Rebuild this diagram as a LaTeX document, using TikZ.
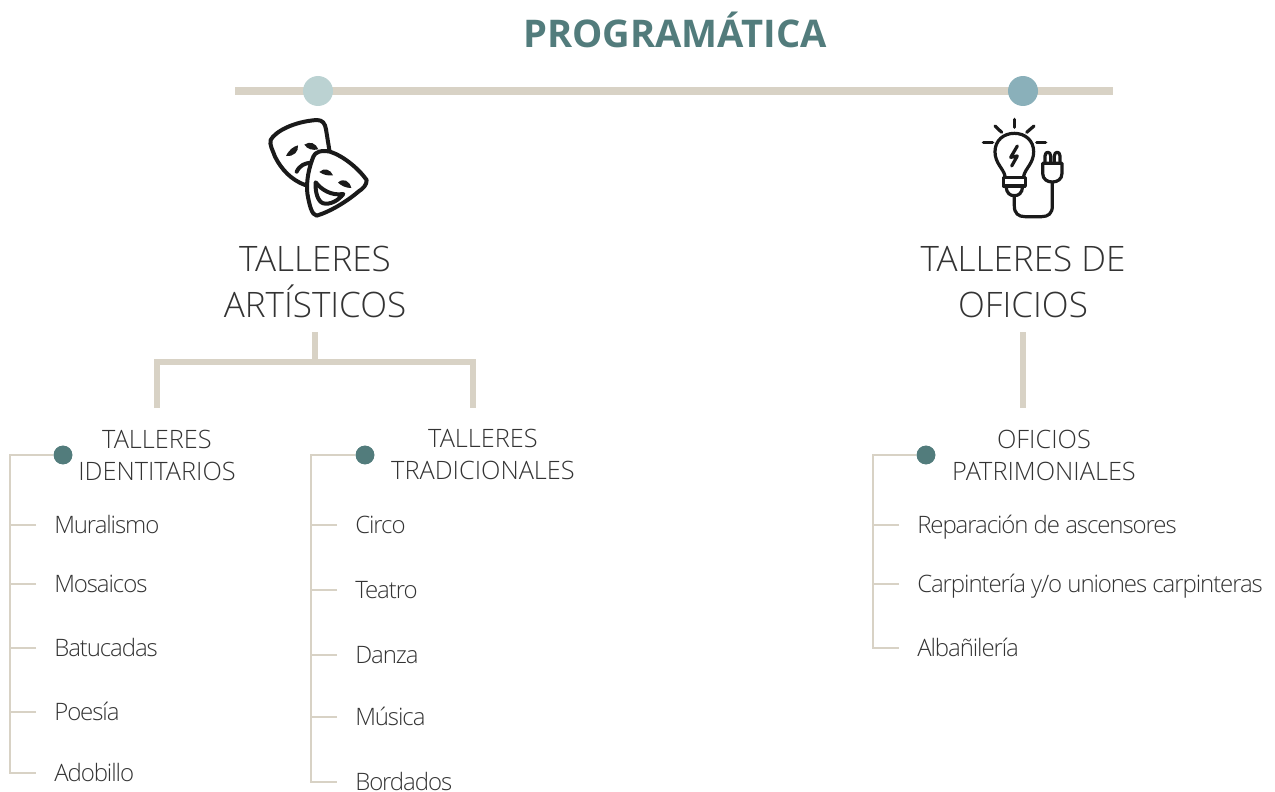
\documentclass[tikz,border=0pt]{standalone}
\usepackage{fontspec}
\setmainfont{Open Sans Light}[BoldFont={Open Sans}]
\newfontfamily\titlefont{Open Sans}
\newfontfamily\itemfont{Open Sans Light}[LetterSpace=-4.5]
\usepackage{tikz}
\usetikzlibrary{positioning}
\definecolor{sand}{HTML}{D8D2C5}
\definecolor{teal}{HTML}{527C7C}
\definecolor{paleblue}{HTML}{BBD2D2}
\definecolor{midblue}{HTML}{8AB0BA}
\definecolor{ink}{HTML}{333333}
\definecolor{iconink}{HTML}{1A1A1A}

\begin{document}
\begin{tikzpicture}[x=0.75pt,y=-0.75pt,line join=miter]
\tikzstyle{every node}=[text=ink]
\tikzstyle{timeline}=[draw=sand,line width=6pt]
\tikzstyle{branch}=[draw=sand,line width=3.8pt]
\tikzstyle{twig}=[draw=sand,line width=2pt]
\tikzstyle{bigdot}=[circle,inner sep=0pt,minimum size=22.5pt]
\tikzstyle{smalldot}=[circle,fill=teal,inner sep=0pt,minimum size=14pt]
\tikzstyle{taller}=[font=\fontsize{26.3}{33.8}\selectfont,align=center,inner sep=0pt]
\tikzstyle{subtaller}=[font=\fontsize{19}{24}\selectfont,align=center,inner sep=0pt]
\tikzstyle{item}=[font=\itemfont\fontsize{18}{22}\selectfont,anchor=west,inner xsep=13.5pt,inner ysep=0pt,text height=13pt,text depth=1pt]
\tikzstyle{icon}=[draw=iconink,line width=2.4pt,line cap=round,line join=round]
\tikzstyle{maskicon}=[icon,line width=3pt]
\useasboundingbox (0,0) rectangle (1275,792);

\node [font=\titlefont\bfseries\fontsize{28.6}{34}\selectfont,text=teal] (title) at (675,30) {PROGRAM\'ATICA};

\coordinate (lineL) at (235,91);
\coordinate (lineR) at (1113,91);
\path [timeline] (lineL) -- (lineR);
\node [bigdot,fill=paleblue] (dot1) at (318,91) {};
\node [bigdot,fill=midblue] (dot2) at (1023,91) {};

% masks
\begin{scope}[shift={(250,70)},x=0.25pt,y=-0.25pt]
\draw [maskicon] (165,345) .. controls (125,330) and (95,300) .. (75,260) .. controls (68,240) and (58,225) .. (62,210)
  .. controls (75,185) and (130,155) .. (200,150) .. controls (218,150) and (225,160) .. (228,178) -- (238,240);
\draw [maskicon] (140,305) .. controls (150,285) and (165,280) .. (182,278);
\fill [iconink] (108,258) .. controls (118,238) and (130,230) .. (144,226) .. controls (146,245) and (132,260) .. (108,258);
\fill [iconink] (163,224) .. controls (180,212) and (198,220) .. (205,238) .. controls (188,242) and (172,238) .. (163,224);
\draw [maskicon] (190,260) .. controls (195,245) and (215,240) .. (240,245) .. controls (280,258) and (325,295) .. (350,330)
  .. controls (350,345) and (340,355) .. (325,365) .. controls (290,395) and (240,425) .. (200,437)
  .. controls (185,435) and (178,405) .. (172,370) .. controls (168,330) and (178,290) .. (190,260) -- cycle;
\draw [maskicon] (197,337) .. controls (215,360) and (245,378) .. (280,372) .. controls (265,392) and (240,405) .. (220,400)
  .. controls (203,395) and (195,365) .. (197,337) -- cycle;
\fill [iconink] (208,306) .. controls (222,292) and (242,298) .. (249,316) .. controls (232,318) and (220,314) .. (208,306);
\fill [iconink] (264,338) .. controls (280,322) and (299,333) .. (304,354) .. controls (288,354) and (275,348) .. (264,338);
\end{scope}

% bulb with plug
\begin{scope}[shift={(960,70)},x=0.25pt,y=-0.25pt]
\draw [icon] (163,148) -- (163,172);
\draw [icon] (105,168) -- (125,187);
\draw [icon] (222,168) -- (200,187);
\draw [icon] (70,217) -- (98,217);
\draw [icon] (230,217) -- (257,217);
\draw [icon] (135,318) .. controls (130,295) and (105,280) .. (105,245) .. controls (105,212) and (130,190) .. (163,190)
  .. controls (196,190) and (221,212) .. (221,245) .. controls (221,280) and (196,295) .. (191,318);
\draw [icon] (130,322) -- (196,322) -- (196,348) -- (130,348) -- cycle;
\draw [icon] (138,350) .. controls (140,370) and (150,377) .. (163,377) .. controls (176,377) and (186,370) .. (188,350);
\draw [icon] (172,228) -- (152,262) -- (172,258) -- (155,288);
\draw [icon] (163,378) -- (163,408) .. controls (163,430) and (175,440) .. (195,440) -- (245,440)
  .. controls (265,440) and (277,430) .. (277,408) -- (277,338);
\draw [icon] (248,280) -- (248,310) .. controls (248,328) and (262,336) .. (277,336) .. controls (292,336) and (306,328) .. (306,310) -- (306,280) -- cycle;
\draw [icon] (255,280) -- (255,258) .. controls (255,243) and (272,243) .. (272,258) -- (272,280);
\draw [icon] (283,280) -- (283,258) .. controls (283,243) and (300,243) .. (300,258) -- (300,280);
\end{scope}

\node [taller] (art) at (315,282) {TALLERES\\ART\'ISTICOS};
\node [taller] (ofi) at (1023,282) {TALLERES DE\\OFICIOS};

\coordinate (artS) at (315,332);
\coordinate (artM) at (315,362);
\coordinate (idenT) at (157,408);
\coordinate (tradT) at (473,408);
\path [branch] (artS) -- (artM);
\path [branch] (idenT) |- (artM) -| (tradT);
\coordinate (ofiS) at (1023,332);
\coordinate (patrT) at (1023,408);
\path [branch] (ofiS) -- (patrT);

\node [smalldot] (dotA) at (63,455) {};
\node [smalldot] (dotB) at (365,455) {};
\node [smalldot] (dotC) at (926,455) {};
\node [subtaller] (iden) at (157,455) {TALLERES\\IDENTITARIOS};
\node [subtaller] (trad) at (483,454) {TALLERES\\TRADICIONALES};
\node [subtaller] (patr) at (1044,455) {OFICIOS\\PATRIMONIALES};

\node [item] (a1) at (36,525) {Muralismo};
\node [item,below=44.25pt of a1.west,anchor=west] (a2) {Mosaicos};
\node [item,below=48pt of a2.west,anchor=west] (a3) {Batucadas};
\node [item,below=48pt of a3.west,anchor=west] (a4) {Poes\'ia};
\node [item,below=45.75pt of a4.west,anchor=west] (a5) {Adobillo};

\node [item] (b1) at (337,525) {Circo};
\node [item,below=48.75pt of b1.west,anchor=west] (b2) {Teatro};
\node [item,below=48.75pt of b2.west,anchor=west] (b3) {Danza};
\node [item,below=46.5pt of b3.west,anchor=west] (b4) {M\'usica};
\node [item,below=48.75pt of b4.west,anchor=west] (b5) {Bordados};

\node [item] (c1) at (899,525) {Reparaci\'on de ascensores};
\node [item,below=44.25pt of c1.west,anchor=west] (c2) {Carpinter\'ia y/o uniones carpinteras};
\node [item,below=48pt of c2.west,anchor=west] (c3) {Alba\~niler\'ia};

\coordinate (trunkA) at (10,455);
\coordinate (trunkB) at (311,455);
\coordinate (trunkC) at (873,455);

\path [twig] (dotA) -- (trunkA) |- (a5.west);
\path [twig] (a1.west) -- (a1.west -| trunkA)
             (a2.west) -- (a2.west -| trunkA)
             (a3.west) -- (a3.west -| trunkA)
             (a4.west) -- (a4.west -| trunkA);
\path [twig] (dotB) -- (trunkB) |- (b5.west);
\path [twig] (b1.west) -- (b1.west -| trunkB)
             (b2.west) -- (b2.west -| trunkB)
             (b3.west) -- (b3.west -| trunkB)
             (b4.west) -- (b4.west -| trunkB);
\path [twig] (dotC) -- (trunkC) |- (c3.west);
\path [twig] (c1.west) -- (c1.west -| trunkC)
             (c2.west) -- (c2.west -| trunkC);
\node [smalldot] at (dotA) {};
\node [smalldot] at (dotB) {};
\node [smalldot] at (dotC) {};
\end{tikzpicture}
\end{document}
